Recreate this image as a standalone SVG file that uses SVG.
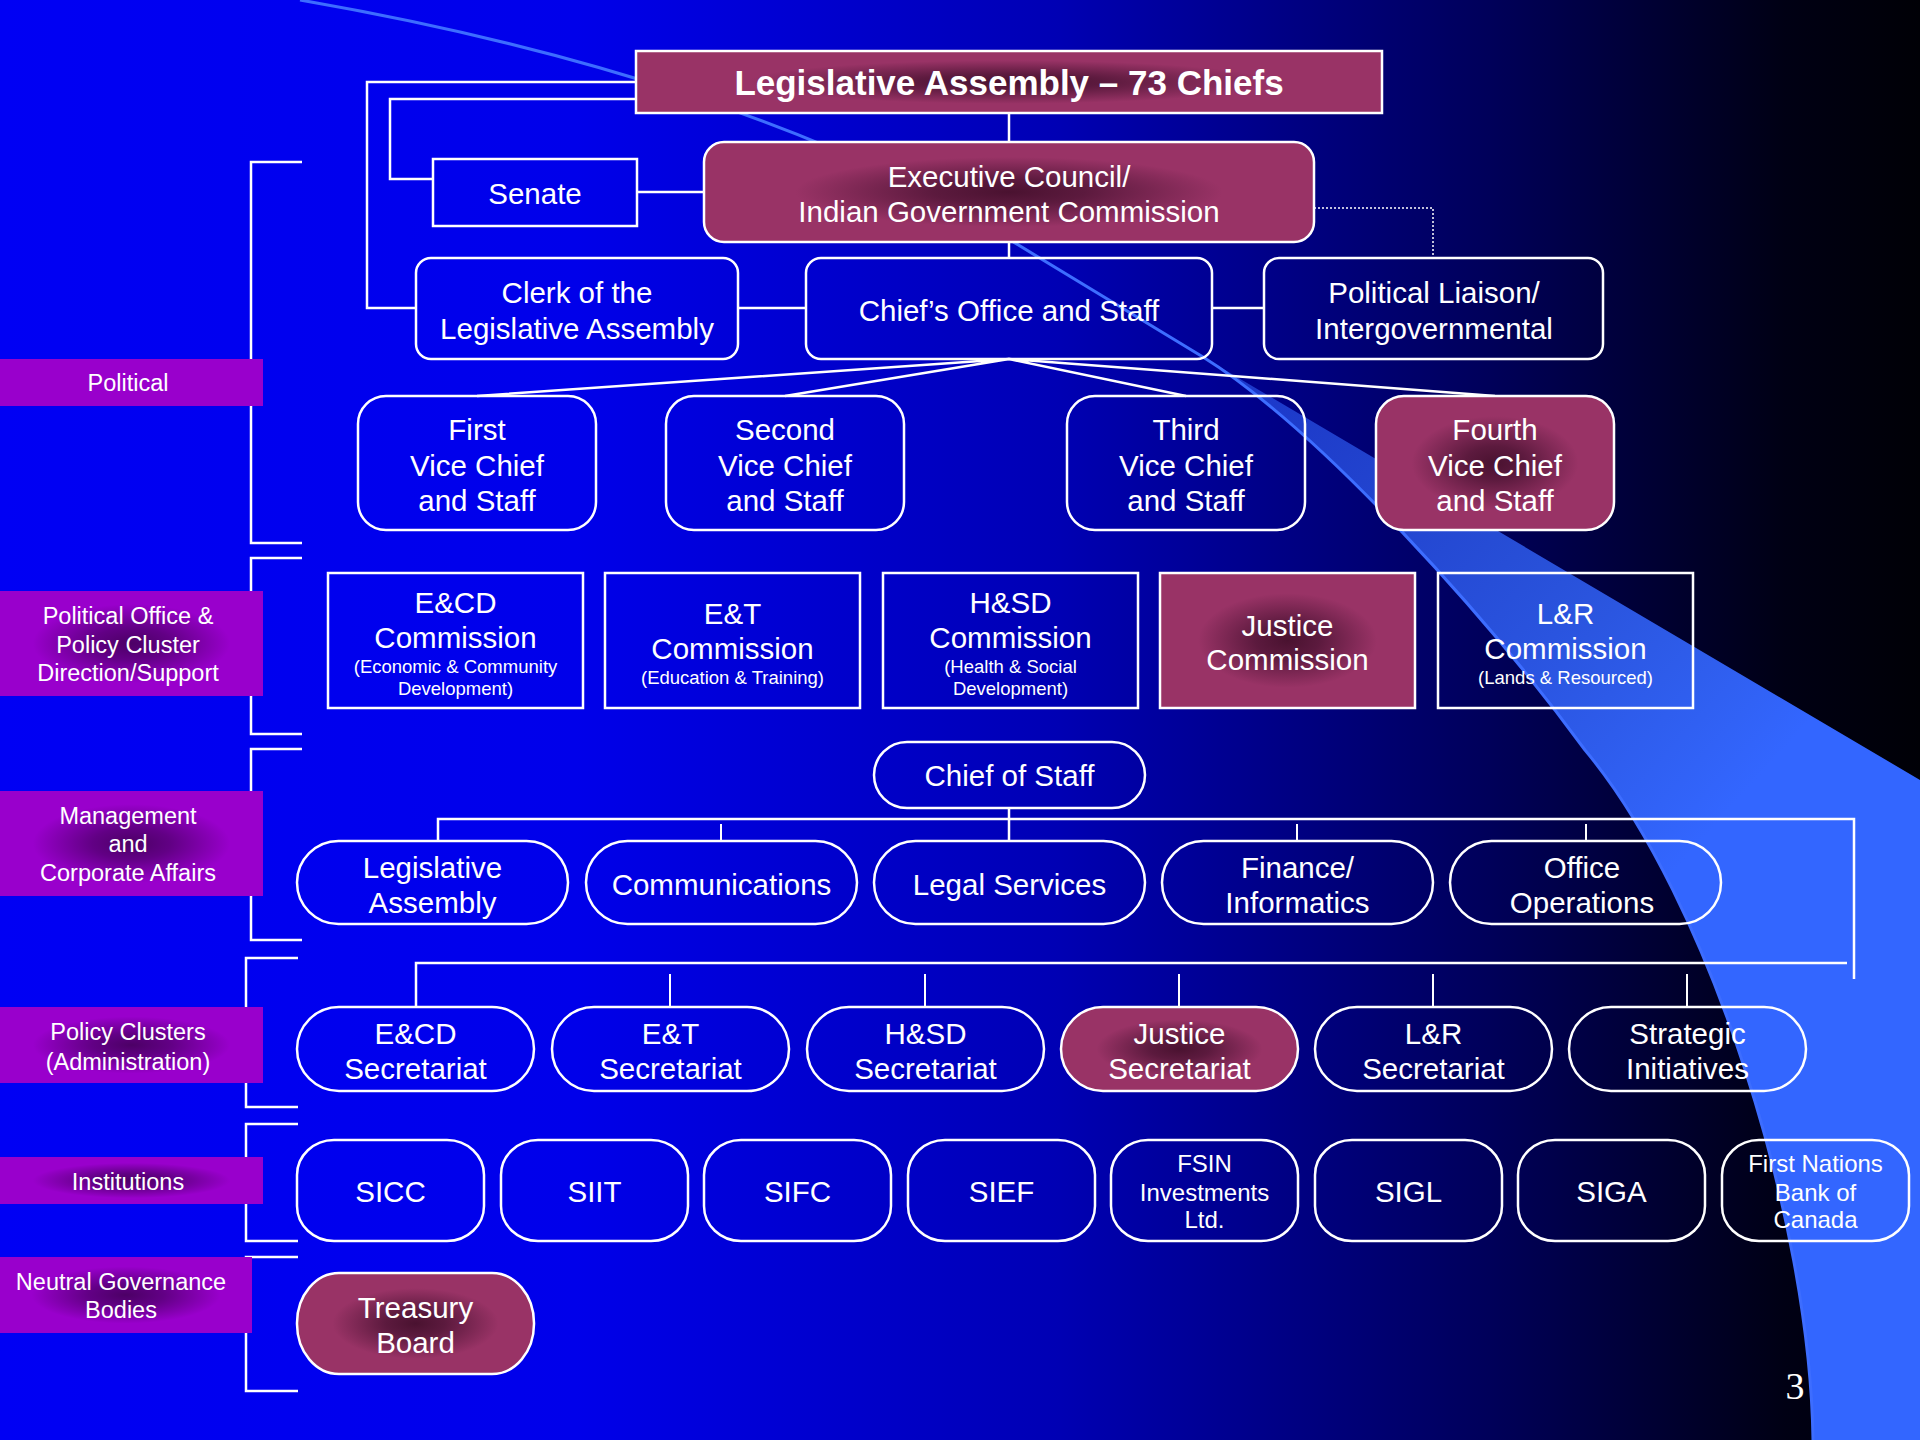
<svg xmlns="http://www.w3.org/2000/svg" width="1920" height="1440" viewBox="0 0 1920 1440">
<defs>
<linearGradient id="bg" x1="0" y1="0" x2="1" y2="0">
<stop offset="0" stop-color="#0000f4"/>
<stop offset="0.3" stop-color="#0000ea"/>
<stop offset="0.55" stop-color="#0000b4"/>
<stop offset="0.78" stop-color="#000058"/>
<stop offset="0.93" stop-color="#000014"/>
<stop offset="1" stop-color="#000006"/>
</linearGradient>
<linearGradient id="sw" gradientUnits="userSpaceOnUse" x1="1200" y1="350" x2="1720" y2="820">
<stop offset="0" stop-color="#3366ff" stop-opacity="0.5"/>
<stop offset="1" stop-color="#3366ff" stop-opacity="1"/>
</linearGradient>
<radialGradient id="mar" cx="0.5" cy="0.5" r="0.5">
<stop offset="0" stop-color="#4a1230"/>
<stop offset="0.25" stop-color="#5c1a3e"/>
<stop offset="0.7" stop-color="#993366"/>
<stop offset="1" stop-color="#993366"/>
</radialGradient>
<radialGradient id="mag" cx="0.5" cy="0.5" r="0.5">
<stop offset="0" stop-color="#4c0066"/>
<stop offset="0.3" stop-color="#620085"/>
<stop offset="0.75" stop-color="#9900cc"/>
<stop offset="1" stop-color="#9900cc"/>
</radialGradient>
</defs>
<style>
.box{fill:none;stroke:#fff;stroke-width:2.5}
.mbox{fill:url(#mar);stroke:#fff;stroke-width:2.5}
.ln{fill:none;stroke:#fff;stroke-width:2.5}
.stub{fill:none;stroke:#fff;stroke-width:2}
.t{font-family:"Liberation Sans",Arial,sans-serif;fill:#fff;text-anchor:middle;font-size:29.5px}
.b{font-weight:bold;font-size:35px}
.s{font-size:18.5px}
.m{font-size:24px}
.lab{font-family:"Liberation Sans",Arial,sans-serif;fill:#fff;text-anchor:middle;font-size:23.5px}
.lbox{fill:url(#mag)}
</style>
<rect x="0" y="0" width="1920" height="1440" fill="url(#bg)"/>
<path d="M1203 357 C1320 430 1490 620 1585 750 C1710 900 1810 1220 1813 1440 L1920 1440 L1920 780 Z" fill="url(#sw)"/>
<path d="M300 0 C560 45 830 125 1015 243 L1203 357 C1320 430 1490 620 1585 750 C1710 900 1810 1220 1813 1440" fill="none" stroke="#3d6dff" stroke-width="3"/>

<g id="brackets" class="ln">
<path d="M302 162 H251 V543 H302"/>
<path d="M302 558 H251 V734 H302"/>
<path d="M302 749 H251 V940 H302"/>
<path d="M298 958 H246 V1107 H298"/>
<path d="M298 1124 H246 V1241 H298"/>
<path d="M298 1257 H246 V1391 H298"/>
</g>

<g id="label-political"><rect x="0" y="359" width="263" height="47" fill="#9900cc"/><text class="lab" x="128" y="391">Political</text></g>
<g id="label-policy-office"><rect class="lbox" x="0" y="591" width="263" height="105"/><text class="lab" x="128" y="624">Political Office &amp;</text><text class="lab" x="128" y="653">Policy Cluster</text><text class="lab" x="128" y="681">Direction/Support</text></g>
<g id="label-management"><rect class="lbox" x="0" y="791" width="263" height="105"/><text class="lab" x="128" y="824">Management</text><text class="lab" x="128" y="852">and</text><text class="lab" x="128" y="881">Corporate Affairs</text></g>
<g id="label-policy-clusters"><rect class="lbox" x="0" y="1007" width="263" height="76"/><text class="lab" x="128" y="1040">Policy Clusters</text><text class="lab" x="128" y="1070">(Administration)</text></g>
<g id="label-institutions"><rect class="lbox" x="0" y="1157" width="263" height="47"/><text class="lab" x="128" y="1190">Institutions</text></g>
<g id="label-neutral"><rect class="lbox" x="0" y="1257" width="252" height="76"/><text class="lab" x="121" y="1290">Neutral Governance</text><text class="lab" x="121" y="1318">Bodies</text></g>

<g id="connectors">
<path class="ln" d="M636 82 H367 V308 H416"/>
<path class="ln" d="M636 99 H390 V179 H433"/>
<path class="ln" d="M1009 113 V142"/>
<path class="ln" d="M637 192 H704"/>
<path class="ln" d="M1009 242 V258"/>
<path class="ln" d="M738 308 H806"/>
<path class="ln" d="M1212 308 H1264"/>
<path fill="none" stroke="#fff" stroke-width="1.5" stroke-dasharray="2 2" d="M1314 208 H1433 V258"/>
<path class="ln" d="M477 396 L1009 359 L785 396 M1009 359 L1186 396 M1009 359 L1495 396"/>
<path class="ln" d="M1009 808 V841 M438 841 V819 H1854 V979"/>
<path class="stub" d="M721 824 V841 M1297 824 V841 M1586 824 V841"/>
<path class="ln" d="M416 1007 V963 H1847"/>
<path class="stub" d="M670 974 V1007 M925 974 V1007 M1179 974 V1007 M1433 974 V1007 M1687 974 V1007"/>
</g>

<g id="n-la"><rect class="mbox" x="636" y="51" width="746" height="62"/><text class="t b" x="1009" y="95">Legislative Assembly – 73 Chiefs</text></g>
<g id="n-exec"><rect class="mbox" x="704" y="142" width="610" height="100" rx="20"/><text class="t" x="1009" y="186.5">Executive Council/</text><text class="t" x="1009" y="221.5">Indian Government Commission</text></g>
<g id="n-senate"><rect class="box" x="433" y="159" width="204" height="67"/><text class="t" x="535" y="203.5">Senate</text></g>
<g id="n-clerk"><rect class="box" x="416" y="258" width="322" height="101" rx="15"/><text class="t" x="577" y="302.5">Clerk of the</text><text class="t" x="577" y="338.5">Legislative Assembly</text></g>
<g id="n-chiefs-office"><rect class="box" x="806" y="258" width="406" height="101" rx="15"/><text class="t" x="1009" y="320.5">Chief’s Office and Staff</text></g>
<g id="n-liaison"><rect class="box" x="1264" y="258" width="339" height="101" rx="15"/><text class="t" x="1434" y="302.5">Political Liaison/</text><text class="t" x="1434" y="338.5">Intergovernmental</text></g>

<g id="n-vc1"><rect class="box" x="358" y="396" width="238" height="134" rx="28"/><text class="t" x="477" y="439.5">First</text><text class="t" x="477" y="475.5">Vice Chief</text><text class="t" x="477" y="510.5">and Staff</text></g>
<g id="n-vc2"><rect class="box" x="666" y="396" width="238" height="134" rx="28"/><text class="t" x="785" y="439.5">Second</text><text class="t" x="785" y="475.5">Vice Chief</text><text class="t" x="785" y="510.5">and Staff</text></g>
<g id="n-vc3"><rect class="box" x="1067" y="396" width="238" height="134" rx="28"/><text class="t" x="1186" y="439.5">Third</text><text class="t" x="1186" y="475.5">Vice Chief</text><text class="t" x="1186" y="510.5">and Staff</text></g>
<g id="n-vc4"><rect class="mbox" x="1376" y="396" width="238" height="134" rx="28"/><text class="t" x="1495" y="439.5">Fourth</text><text class="t" x="1495" y="475.5">Vice Chief</text><text class="t" x="1495" y="510.5">and Staff</text></g>

<g id="n-ecd-comm"><rect class="box" x="328" y="573" width="255" height="135"/><text class="t" x="455.5" y="612.5">E&amp;CD</text><text class="t" x="455.5" y="647.5">Commission</text><text class="t s" x="455.5" y="672.5">(Economic &amp; Community</text><text class="t s" x="455.5" y="694.5">Development)</text></g>
<g id="n-et-comm"><rect class="box" x="605" y="573" width="255" height="135"/><text class="t" x="732.5" y="623.5">E&amp;T</text><text class="t" x="732.5" y="658.5">Commission</text><text class="t s" x="732.5" y="683.5">(Education &amp; Training)</text></g>
<g id="n-hsd-comm"><rect class="box" x="883" y="573" width="255" height="135"/><text class="t" x="1010.5" y="612.5">H&amp;SD</text><text class="t" x="1010.5" y="647.5">Commission</text><text class="t s" x="1010.5" y="672.5">(Health &amp; Social</text><text class="t s" x="1010.5" y="694.5">Development)</text></g>
<g id="n-justice-comm"><rect class="mbox" x="1160" y="573" width="255" height="135"/><text class="t" x="1287.5" y="635.5">Justice</text><text class="t" x="1287.5" y="669.5">Commission</text></g>
<g id="n-lr-comm"><rect class="box" x="1438" y="573" width="255" height="135"/><text class="t" x="1565.5" y="623.5">L&amp;R</text><text class="t" x="1565.5" y="658.5">Commission</text><text class="t s" x="1565.5" y="683.5">(Lands &amp; Resourced)</text></g>

<g id="n-chief-of-staff"><rect class="box" x="874" y="742" width="271" height="66" rx="33"/><text class="t" x="1009.5" y="785.5">Chief of Staff</text></g>

<g id="n-leg-assembly"><rect class="box" x="297" y="841" width="271" height="83" rx="41.5"/><text class="t" x="432.5" y="877.5">Legislative</text><text class="t" x="432.5" y="912.5">Assembly</text></g>
<g id="n-communications"><rect class="box" x="586" y="841" width="271" height="83" rx="41.5"/><text class="t" x="721.5" y="894.5">Communications</text></g>
<g id="n-legal"><rect class="box" x="874" y="841" width="271" height="83" rx="41.5"/><text class="t" x="1009.5" y="894.5">Legal Services</text></g>
<g id="n-finance"><rect class="box" x="1162" y="841" width="271" height="83" rx="41.5"/><text class="t" x="1297.5" y="877.5">Finance/</text><text class="t" x="1297.5" y="912.5">Informatics</text></g>
<g id="n-office"><rect class="box" x="1450" y="841" width="271" height="83" rx="41.5"/><text class="t" x="1582" y="877.5">Office</text><text class="t" x="1582" y="912.5">Operations</text></g>

<g id="n-ecd-sec"><rect class="box" x="297" y="1007" width="237" height="84" rx="42"/><text class="t" x="415.5" y="1043.5">E&amp;CD</text><text class="t" x="415.5" y="1078.5">Secretariat</text></g>
<g id="n-et-sec"><rect class="box" x="552" y="1007" width="237" height="84" rx="42"/><text class="t" x="670.5" y="1043.5">E&amp;T</text><text class="t" x="670.5" y="1078.5">Secretariat</text></g>
<g id="n-hsd-sec"><rect class="box" x="807" y="1007" width="237" height="84" rx="42"/><text class="t" x="925.5" y="1043.5">H&amp;SD</text><text class="t" x="925.5" y="1078.5">Secretariat</text></g>
<g id="n-justice-sec"><rect class="mbox" x="1061" y="1007" width="237" height="84" rx="42"/><text class="t" x="1179.5" y="1043.5">Justice</text><text class="t" x="1179.5" y="1078.5">Secretariat</text></g>
<g id="n-lr-sec"><rect class="box" x="1315" y="1007" width="237" height="84" rx="42"/><text class="t" x="1433.5" y="1043.5">L&amp;R</text><text class="t" x="1433.5" y="1078.5">Secretariat</text></g>
<g id="n-strategic"><rect class="box" x="1569" y="1007" width="237" height="84" rx="42"/><text class="t" x="1687.5" y="1043.5">Strategic</text><text class="t" x="1687.5" y="1078.5">Initiatives</text></g>

<g id="n-sicc"><rect class="box" x="297" y="1140" width="187" height="101" rx="37" ry="35"/><text class="t" x="390.5" y="1201.5">SICC</text></g>
<g id="n-siit"><rect class="box" x="501" y="1140" width="187" height="101" rx="37" ry="35"/><text class="t" x="594.5" y="1201.5">SIIT</text></g>
<g id="n-sifc"><rect class="box" x="704" y="1140" width="187" height="101" rx="37" ry="35"/><text class="t" x="797.5" y="1201.5">SIFC</text></g>
<g id="n-sief"><rect class="box" x="908" y="1140" width="187" height="101" rx="37" ry="35"/><text class="t" x="1001.5" y="1201.5">SIEF</text></g>
<g id="n-fsin"><rect class="box" x="1111" y="1140" width="187" height="101" rx="37" ry="35"/><text class="t m" x="1204.5" y="1171.5">FSIN</text><text class="t m" x="1204.5" y="1200.5">Investments</text><text class="t m" x="1204.5" y="1227.5">Ltd.</text></g>
<g id="n-sigl"><rect class="box" x="1315" y="1140" width="187" height="101" rx="37" ry="35"/><text class="t" x="1408.5" y="1201.5">SIGL</text></g>
<g id="n-siga"><rect class="box" x="1518" y="1140" width="187" height="101" rx="37" ry="35"/><text class="t" x="1611.5" y="1201.5">SIGA</text></g>
<g id="n-fnbc"><rect class="box" x="1722" y="1140" width="187" height="101" rx="37" ry="35"/><text class="t m" x="1815.5" y="1171.5">First Nations</text><text class="t m" x="1815.5" y="1200.5">Bank of</text><text class="t m" x="1815.5" y="1227.5">Canada</text></g>

<g id="n-treasury"><rect class="mbox" x="297" y="1273" width="237" height="101" rx="42" ry="50"/><text class="t" x="415.5" y="1317.5">Treasury</text><text class="t" x="415.5" y="1352.5">Board</text></g>

<text x="1795" y="1399" font-family="'Liberation Serif','Times New Roman',serif" font-size="38" fill="#fff" text-anchor="middle">3</text>
</svg>
